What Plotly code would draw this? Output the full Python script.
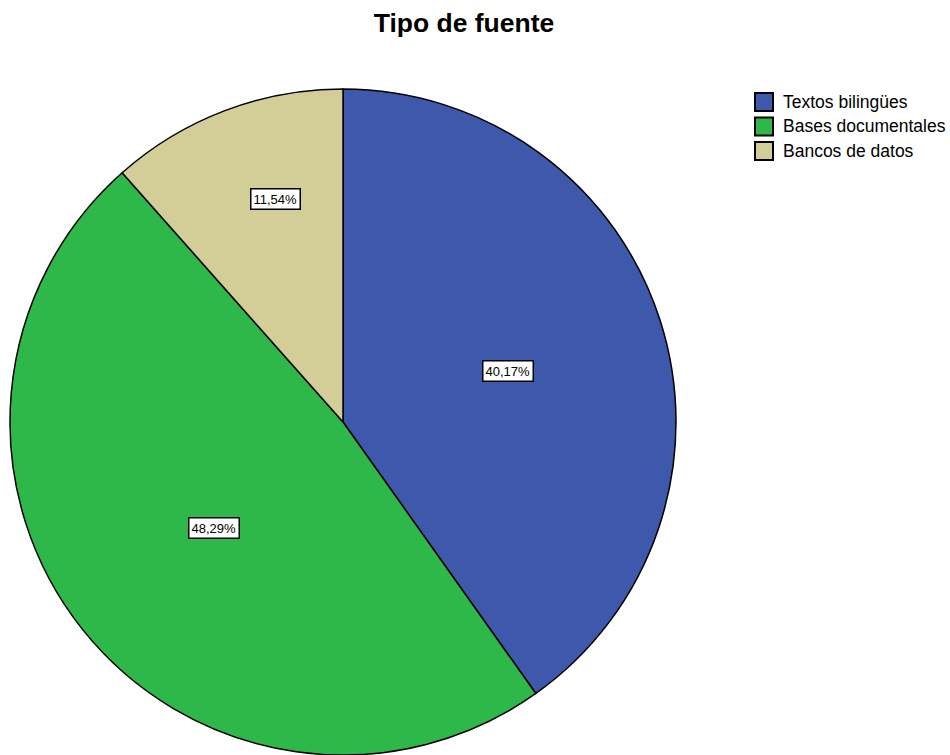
import math
import plotly.graph_objects as go

# Data
categories = ["Textos bilingües", "Bases documentales", "Bancos de datos"]
percentages = [40.17, 48.29, 11.54]
colors = ["#3E58AC", "#2EB84A", "#D3CE97"]

FONT = "Liberation Sans, Arial"
W, H = 950, 755
ML, MR, MT, MB = 10, 0, 89, 0
plot_w = W - ML - MR
plot_h = H - MT - MB
diam = min(plot_h, 669)
dom_x = [0, diam / plot_w]


def to_paper(px, py):
    """Convert figure pixel coordinates to paper coordinates."""
    return (px - ML) / plot_w, 1 - (py - MT) / plot_h


fig = go.Figure(
    go.Pie(
        labels=categories,
        values=percentages,
        marker=dict(colors=colors, line=dict(color="black", width=1.5)),
        sort=False,
        direction="clockwise",
        rotation=0,
        textinfo="none",
        hoverinfo="label+percent",
        showlegend=False,
        domain=dict(x=dom_x, y=[0, 1]),
    )
)

# Boxed percentage labels placed near each slice's bisector
radial_frac = [0.52, 0.50, 0.70]
angle_nudge_deg = [0.5, -1.0, 4.0]
cx = ML + diam / 2
cy = MT + plot_h / 2
r = diam / 2
total = sum(percentages)
start = 0.0
annotations = []
for val, frac, nudge in zip(percentages, radial_frac, angle_nudge_deg):
    mid = (start + val / 2) / total * 2 * math.pi + math.radians(nudge)
    start += val
    x, y = to_paper(cx + frac * r * math.sin(mid), cy - frac * r * math.cos(mid))
    annotations.append(
        dict(
            x=x, y=y, xref="paper", yref="paper",
            xanchor="center", yanchor="middle",
            text=f"{val:.2f}%".replace(".", ","),
            showarrow=False,
            font=dict(family=FONT, size=13, color="black"),
            bgcolor="white",
            bordercolor="black",
            borderwidth=1.5,
            borderpad=2,
        )
    )

# Legend: outlined swatches with labels
shapes = []
sw_x0, sw_size, row_top, row_step = 755, 18, 93, 24.5
for i, (name, col) in enumerate(zip(categories, colors)):
    top = row_top + i * row_step
    x0, y0 = to_paper(sw_x0, top + sw_size)
    x1, y1 = to_paper(sw_x0 + sw_size, top)
    shapes.append(dict(type="rect", xref="paper", yref="paper",
                       x0=x0, y0=y0, x1=x1, y1=y1,
                       fillcolor=col, line=dict(color="black", width=2)))
    tx, ty = to_paper(sw_x0 + 26, top + sw_size / 2)
    annotations.append(dict(x=tx, y=ty, xref="paper", yref="paper",
                            xanchor="left", yanchor="middle",
                            text=name, showarrow=False,
                            font=dict(family=FONT, size=17.5, color="black")))

fig.update_layout(
    width=W,
    height=H,
    margin=dict(l=ML, r=MR, t=MT, b=MB),
    paper_bgcolor="white",
    plot_bgcolor="white",
    showlegend=False,
    title=dict(
        text="<b>Tipo de fuente</b>",
        x=464 / W,
        xref="container",
        xanchor="center",
        y=1 - 22.5 / H,
        yref="container",
        yanchor="middle",
        font=dict(family=FONT, size=26.5, color="black"),
    ),
    shapes=shapes,
    annotations=annotations,
)

fig.write_html("out.html")
